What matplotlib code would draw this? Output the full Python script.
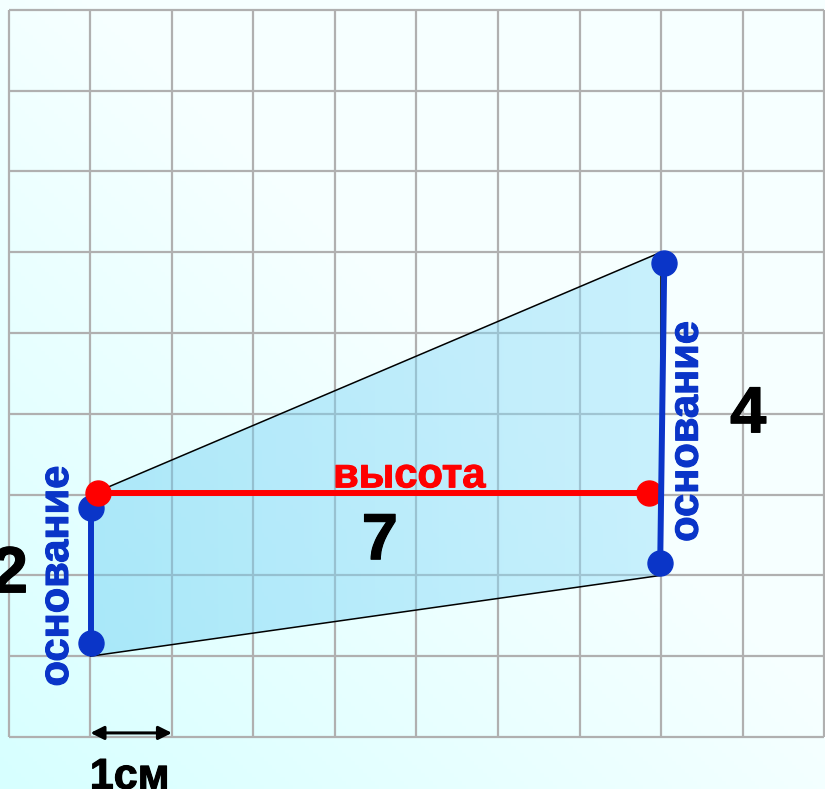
import matplotlib
matplotlib.use('Agg')
import matplotlib.pyplot as plt
import matplotlib.patheffects as pe
import numpy as np
from matplotlib.patches import Polygon

plt.rcParams['font.family'] = ['Liberation Sans', 'DejaVu Sans']

# cuadricula (celdas de 1 cm)
n_col = 10
n_fil = 9

# trapecio: vertices (x, y) en celdas
trap_x = [1, 1, 8, 8]
trap_y = [1, 3, 6, 2]

# bases (segmentos azules) y altura (segmento rojo)
base_izq_x = [1.006, 1.006]
base_izq_y = [2.83, 1.16]
base_der_x = [8.04, 7.99]
base_der_y = [5.87, 2.15]
altura_x = [1.09, 7.85]
altura_y = [3.02, 3.02]

etiqueta_base = 'основание'
etiqueta_altura = 'высота'
valor_base_izq = '2'
valor_base_der = '4'
valor_altura = '7'
escala = '1см'

azul = '#0a35c8'
rojo = '#ff0000'

fig = plt.figure(figsize=(8.25, 7.89), dpi=100)
ax = fig.add_axes([0, 0, 1, 1])
x0, x1 = -0.110, 10.012
y0, y1 = -0.644, 9.121
ax.set_xlim(x0, x1)
ax.set_ylim(y0, y1)
ax.axis('off')

# fondo degradado celeste (mas oscuro abajo a la izquierda)
u = np.linspace(0, 1, 200)
v = np.linspace(1, 0, 200)
U, V = np.meshgrid(u, v)
t = np.clip((U + V) / 1.1, 0, 1)
fondo = np.zeros((200, 200, 3))
fondo[..., 0] = (215 + 31 * t) / 255
fondo[..., 1] = 1.0
fondo[..., 2] = 1.0
ax.imshow(fondo, extent=(x0, x1, y0, y1), aspect='auto', zorder=0)

# lineas de la cuadricula
for i in range(n_col + 1):
    ax.plot([i, i], [0, n_fil], color='#b0b0b0', lw=1.6, zorder=1, solid_capstyle='butt')
for j in range(n_fil + 1):
    ax.plot([0, n_col], [j, j], color='#b0b0b0', lw=1.6, zorder=1, solid_capstyle='butt')

# relleno del trapecio con degradado
poly = Polygon(list(zip(trap_x, trap_y)), closed=True, facecolor='none',
               edgecolor='black', lw=1.1, zorder=3)
ax.add_patch(poly)
g = np.linspace(0, 1, 200)
relleno = np.zeros((2, 200, 4))
relleno[..., 0] = (108 + 40 * g) / 255
relleno[..., 1] = (206 + 18 * g) / 255
relleno[..., 2] = (243 + 7 * g) / 255
relleno[..., 3] = 0.47
im = ax.imshow(relleno, extent=(min(trap_x), max(trap_x), min(trap_y), max(trap_y)),
               aspect='auto', zorder=2)
im.set_clip_path(poly)

# bases y altura
ax.plot(base_izq_x, base_izq_y, color=azul, lw=4.3, zorder=4)
ax.plot(base_izq_x, base_izq_y, 'o', color=azul, ms=18, zorder=5)
ax.plot(altura_x, altura_y, color=rojo, lw=4.3, zorder=6)
ax.plot(altura_x, altura_y, 'o', color=rojo, ms=18, zorder=7)
ax.plot(base_der_x, base_der_y, color=azul, lw=4.3, zorder=8)
ax.plot(base_der_x, base_der_y, 'o', color=azul, ms=18, zorder=9)


def grueso(c):
    # engrosa un poco las letras
    return [pe.withStroke(linewidth=0.8, foreground=c)]


# textos
ax.text(4.91, 3.09, etiqueta_altura, color=rojo, fontsize=30, fontweight='bold',
        ha='center', va='baseline', zorder=10, path_effects=grueso(rojo))
ax.text(4.55, 2.20, valor_altura, color='black', fontsize=47, fontweight='bold',
        ha='center', va='baseline', zorder=10, path_effects=grueso('black'))
ax.text(9.07, 3.77, valor_base_der, color='black', fontsize=47, fontweight='bold',
        ha='center', va='baseline', zorder=10, path_effects=grueso('black'))
ax.text(0.233, 1.79, valor_base_izq, color='black', fontsize=47, fontweight='bold',
        ha='right', va='baseline', zorder=10, path_effects=grueso('black'))
ax.text(0.724, 1.99, etiqueta_base, color=azul, fontsize=30, fontweight='bold',
        rotation=90, rotation_mode='anchor', ha='center', va='baseline', zorder=10,
        path_effects=grueso(azul))
ax.text(8.45, 3.78, etiqueta_base, color=azul, fontsize=30, fontweight='bold',
        rotation=90, rotation_mode='anchor', ha='center', va='baseline', zorder=10,
        path_effects=grueso(azul))

# escala 1 cm
ax.annotate('', xy=(2, 0.05), xytext=(1, 0.05),
            arrowprops=dict(arrowstyle='<|-|>', color='black', lw=2.2,
                            shrinkA=0, shrinkB=0, mutation_scale=20), zorder=10)
ax.text(1.48, -0.64, escala, color='black', fontsize=31, fontweight='bold',
        ha='center', va='baseline', zorder=10, path_effects=grueso('black'))

fig.savefig('out.png', dpi=100)
